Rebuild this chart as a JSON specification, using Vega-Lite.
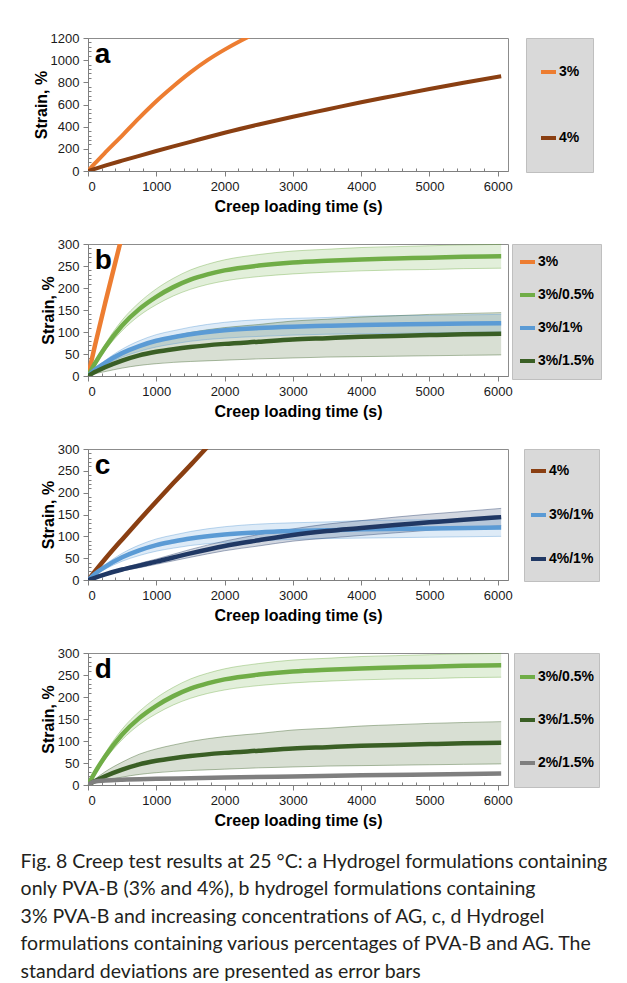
{
  "$schema": "https://vega.github.io/schema/vega-lite/v6.json",
  "background": "white",
  "padding": {"left": 20, "top": 31, "right": 5, "bottom": 5},
  "datasets": {
    "creep": [
      {"s": "3%", "t": 0, "y": 0}, {"s": "3%", "t": 100, "y": 68}, {"s": "3%", "t": 250, "y": 165}, {"s": "3%", "t": 500, "y": 320}, {"s": "3%", "t": 750, "y": 480}, {"s": "3%", "t": 1000, "y": 630}, {"s": "3%", "t": 1250, "y": 765}, {"s": "3%", "t": 1500, "y": 890}, {"s": "3%", "t": 1750, "y": 1000}, {"s": "3%", "t": 2000, "y": 1095}, {"s": "3%", "t": 2250, "y": 1180}, {"s": "3%", "t": 2500, "y": 1255},
      {"s": "4%", "t": 0, "y": 0}, {"s": "4%", "t": 250, "y": 48}, {"s": "4%", "t": 500, "y": 93}, {"s": "4%", "t": 750, "y": 137}, {"s": "4%", "t": 1000, "y": 180}, {"s": "4%", "t": 1250, "y": 222}, {"s": "4%", "t": 1500, "y": 263}, {"s": "4%", "t": 1750, "y": 305}, {"s": "4%", "t": 2000, "y": 345}, {"s": "4%", "t": 2500, "y": 420}, {"s": "4%", "t": 3000, "y": 490}, {"s": "4%", "t": 3500, "y": 555}, {"s": "4%", "t": 4000, "y": 620}, {"s": "4%", "t": 4500, "y": 680}, {"s": "4%", "t": 5000, "y": 740}, {"s": "4%", "t": 5500, "y": 797}, {"s": "4%", "t": 6050, "y": 855},
      {"s": "3%/0.5%", "t": 0, "y": 0, "lo": 0, "hi": 0}, {"s": "3%/0.5%", "t": 100, "y": 28, "lo": 25, "hi": 31}, {"s": "3%/0.5%", "t": 250, "y": 65, "lo": 58, "hi": 72}, {"s": "3%/0.5%", "t": 500, "y": 115, "lo": 103, "hi": 127}, {"s": "3%/0.5%", "t": 750, "y": 152, "lo": 137, "hi": 167}, {"s": "3%/0.5%", "t": 1000, "y": 180, "lo": 162, "hi": 198}, {"s": "3%/0.5%", "t": 1250, "y": 202, "lo": 182, "hi": 222}, {"s": "3%/0.5%", "t": 1500, "y": 219, "lo": 197, "hi": 241}, {"s": "3%/0.5%", "t": 1750, "y": 231, "lo": 208, "hi": 254}, {"s": "3%/0.5%", "t": 2000, "y": 240, "lo": 216, "hi": 264}, {"s": "3%/0.5%", "t": 2500, "y": 251, "lo": 226, "hi": 276}, {"s": "3%/0.5%", "t": 3000, "y": 258, "lo": 232, "hi": 284}, {"s": "3%/0.5%", "t": 3500, "y": 262, "lo": 236, "hi": 288}, {"s": "3%/0.5%", "t": 4000, "y": 265, "lo": 239, "hi": 292}, {"s": "3%/0.5%", "t": 4500, "y": 267, "lo": 241, "hi": 294}, {"s": "3%/0.5%", "t": 5000, "y": 269, "lo": 242, "hi": 296}, {"s": "3%/0.5%", "t": 5500, "y": 271, "lo": 244, "hi": 298}, {"s": "3%/0.5%", "t": 6050, "y": 272, "lo": 245, "hi": 299},
      {"s": "3%/1%", "t": 0, "y": 0, "lo": 0, "hi": 0}, {"s": "3%/1%", "t": 100, "y": 14, "lo": 12, "hi": 16}, {"s": "3%/1%", "t": 250, "y": 30, "lo": 25, "hi": 35}, {"s": "3%/1%", "t": 500, "y": 52, "lo": 43, "hi": 61}, {"s": "3%/1%", "t": 750, "y": 68, "lo": 56, "hi": 80}, {"s": "3%/1%", "t": 1000, "y": 80, "lo": 66, "hi": 94}, {"s": "3%/1%", "t": 1250, "y": 88, "lo": 73, "hi": 103}, {"s": "3%/1%", "t": 1500, "y": 95, "lo": 79, "hi": 111}, {"s": "3%/1%", "t": 2000, "y": 104, "lo": 86, "hi": 122}, {"s": "3%/1%", "t": 2500, "y": 109, "lo": 90, "hi": 128}, {"s": "3%/1%", "t": 3000, "y": 112, "lo": 93, "hi": 131}, {"s": "3%/1%", "t": 3500, "y": 114, "lo": 95, "hi": 133}, {"s": "3%/1%", "t": 4000, "y": 116, "lo": 96, "hi": 136}, {"s": "3%/1%", "t": 5000, "y": 118, "lo": 98, "hi": 138}, {"s": "3%/1%", "t": 6050, "y": 120, "lo": 100, "hi": 140},
      {"s": "3%/1.5%", "t": 0, "y": 0, "lo": 0, "hi": 0}, {"s": "3%/1.5%", "t": 100, "y": 9, "lo": 5, "hi": 13}, {"s": "3%/1.5%", "t": 250, "y": 20, "lo": 10, "hi": 30}, {"s": "3%/1.5%", "t": 500, "y": 35, "lo": 18, "hi": 52}, {"s": "3%/1.5%", "t": 750, "y": 47, "lo": 24, "hi": 70}, {"s": "3%/1.5%", "t": 1000, "y": 55, "lo": 28, "hi": 82}, {"s": "3%/1.5%", "t": 1250, "y": 61, "lo": 31, "hi": 91}, {"s": "3%/1.5%", "t": 1500, "y": 66, "lo": 33, "hi": 99}, {"s": "3%/1.5%", "t": 2000, "y": 73, "lo": 36, "hi": 110}, {"s": "3%/1.5%", "t": 2500, "y": 78, "lo": 39, "hi": 117}, {"s": "3%/1.5%", "t": 3000, "y": 83, "lo": 41, "hi": 125}, {"s": "3%/1.5%", "t": 3500, "y": 86, "lo": 43, "hi": 129}, {"s": "3%/1.5%", "t": 4000, "y": 89, "lo": 44, "hi": 134}, {"s": "3%/1.5%", "t": 4500, "y": 91, "lo": 45, "hi": 137}, {"s": "3%/1.5%", "t": 5000, "y": 93, "lo": 46, "hi": 140}, {"s": "3%/1.5%", "t": 5500, "y": 95, "lo": 47, "hi": 142}, {"s": "3%/1.5%", "t": 6050, "y": 96, "lo": 48, "hi": 144},
      {"s": "4%/1%", "t": 0, "y": 0, "lo": 0, "hi": 0}, {"s": "4%/1%", "t": 100, "y": 5, "lo": 4, "hi": 6}, {"s": "4%/1%", "t": 250, "y": 13, "lo": 11, "hi": 15}, {"s": "4%/1%", "t": 500, "y": 24, "lo": 21, "hi": 27}, {"s": "4%/1%", "t": 750, "y": 33, "lo": 28, "hi": 38}, {"s": "4%/1%", "t": 1000, "y": 42, "lo": 36, "hi": 48}, {"s": "4%/1%", "t": 1500, "y": 61, "lo": 52, "hi": 70}, {"s": "4%/1%", "t": 2000, "y": 78, "lo": 67, "hi": 89}, {"s": "4%/1%", "t": 2500, "y": 91, "lo": 78, "hi": 104}, {"s": "4%/1%", "t": 3000, "y": 103, "lo": 89, "hi": 117}, {"s": "4%/1%", "t": 3500, "y": 112, "lo": 96, "hi": 128}, {"s": "4%/1%", "t": 4000, "y": 119, "lo": 102, "hi": 136}, {"s": "4%/1%", "t": 4500, "y": 126, "lo": 108, "hi": 144}, {"s": "4%/1%", "t": 5000, "y": 132, "lo": 114, "hi": 151}, {"s": "4%/1%", "t": 5500, "y": 138, "lo": 119, "hi": 157}, {"s": "4%/1%", "t": 6050, "y": 144, "lo": 124, "hi": 164},
      {"s": "2%/1.5%", "t": 0, "y": 0}, {"s": "2%/1.5%", "t": 50, "y": 5}, {"s": "2%/1.5%", "t": 100, "y": 8}, {"s": "2%/1.5%", "t": 250, "y": 10}, {"s": "2%/1.5%", "t": 500, "y": 12}, {"s": "2%/1.5%", "t": 1000, "y": 14}, {"s": "2%/1.5%", "t": 1500, "y": 15.5}, {"s": "2%/1.5%", "t": 2000, "y": 17}, {"s": "2%/1.5%", "t": 3000, "y": 19.5}, {"s": "2%/1.5%", "t": 4000, "y": 22}, {"s": "2%/1.5%", "t": 5000, "y": 24}, {"s": "2%/1.5%", "t": 6050, "y": 26}
    ]
  },
  "title": {
    "text": [
      "Fig. 8  Creep test results at 25 °C: a Hydrogel formulations containing",
      "only PVA-B (3% and 4%), b hydrogel formulations containing",
      "3% PVA-B and increasing concentrations of AG, c, d Hydrogel",
      "formulations containing various percentages of PVA-B and AG. The",
      "standard deviations are presented as error bars"
    ],
    "orient": "bottom", "anchor": "start", "frame": "bounds",
    "font": "Lato", "fontSize": 19.5, "fontWeight": "normal", "color": "#231f20",
    "lineHeight": 27.5, "offset": 24, "dx": -12, "baseline": "top"
  },
  "spacing": 22,
  "resolve": {"scale": {"color": "independent", "x": "independent", "y": "independent"}, "legend": {"color": "independent"}},
  "vconcat": [
    {
      "width": 420, "height": 133,
      "resolve": {"scale": {"color": "independent"}},
      "layer": [
        {
          "data": {"name": "creep"},
          "transform": [{"filter": {"field": "s", "oneOf": ["3%", "4%"]}}],
          "mark": {"type": "line", "strokeWidth": 4, "clip": true, "interpolate": "monotone"},
          "encoding": {
            "x": {"field": "t", "type": "quantitative", "scale": {"domain": [0, 6150], "nice": false},
              "axis": {"title": "Creep loading time (s)", "format": "d", "values": [0,200,400,600,800,1000,1200,1400,1600,1800,2000,2200,2400,2600,2800,3000,3200,3400,3600,3800,4000,4200,4400,4600,4800,5000,5200,5400,5600,5800,6000], "labelExpr": "datum.value % 1000 === 0 ? datum.label : ''", "tickSize": {"condition": {"test": "datum.value % 1000 === 0", "value": 5}, "value": -3}}},
            "y": {"field": "y", "type": "quantitative", "scale": {"domain": [0, 1200], "nice": false},
              "axis": {"title": "Strain, %", "format": "d", "values": [0,40,80,120,160,200,240,280,320,360,400,440,480,520,560,600,640,680,720,760,800,840,880,920,960,1000,1040,1080,1120,1160,1200], "labelExpr": "datum.value % 200 === 0 ? datum.label : ''", "tickSize": {"condition": {"test": "datum.value % 200 === 0", "value": 5}, "value": -3}}},
            "color": {"field": "s", "type": "nominal", "scale": {"domain": ["3%", "4%"], "range": ["#ED7D31", "#8A3F12"]},
              "legend": {"title": null, "offset": 18, "padding": 13, "clipHeight": 42, "rowPadding": 24}}
          }
        },
        {
          "data": {"values": [{"label": "a"}]},
          "mark": {"type": "text", "font": "Liberation Sans", "fontSize": 28, "fontWeight": "bold", "color": "#000", "align": "left", "baseline": "alphabetic"},
          "encoding": {
            "x": {"datum": 100, "type": "quantitative",
              "axis": {"title": "Creep loading time (s)", "format": "d", "values": [0,200,400,600,800,1000,1200,1400,1600,1800,2000,2200,2400,2600,2800,3000,3200,3400,3600,3800,4000,4200,4400,4600,4800,5000,5200,5400,5600,5800,6000], "labelExpr": "datum.value % 1000 === 0 ? datum.label : ''", "tickSize": {"condition": {"test": "datum.value % 1000 === 0", "value": 5}, "value": -3}}},
            "y": {"datum": 975, "type": "quantitative",
              "axis": {"title": "Strain, %", "format": "d", "values": [0,40,80,120,160,200,240,280,320,360,400,440,480,520,560,600,640,680,720,760,800,840,880,920,960,1000,1040,1080,1120,1160,1200], "labelExpr": "datum.value % 200 === 0 ? datum.label : ''", "tickSize": {"condition": {"test": "datum.value % 200 === 0", "value": 5}, "value": -3}}},
            "text": {"field": "label"}
          }
        }
      ]
    },
    {
      "width": 420, "height": 132,
      "resolve": {"scale": {"color": "independent"}},
      "layer": [
        {
          "data": {"name": "creep"},
          "transform": [{"filter": {"field": "s", "oneOf": ["3%/0.5%", "3%/1%", "3%/1.5%"]}}],
          "mark": {"type": "errorband", "interpolate": "monotone", "band": {"opacity": 0.2}, "borders": {"opacity": 0.4, "strokeWidth": 1}},
          "encoding": {
            "x": {"field": "t", "type": "quantitative", "scale": {"domain": [0, 6150], "nice": false},
              "axis": {"title": "Creep loading time (s)", "format": "d", "values": [0,200,400,600,800,1000,1200,1400,1600,1800,2000,2200,2400,2600,2800,3000,3200,3400,3600,3800,4000,4200,4400,4600,4800,5000,5200,5400,5600,5800,6000], "labelExpr": "datum.value % 1000 === 0 ? datum.label : ''", "tickSize": {"condition": {"test": "datum.value % 1000 === 0", "value": 5}, "value": -3}}},
            "y": {"field": "lo", "type": "quantitative", "scale": {"domain": [0, 300], "nice": false},
              "axis": {"title": "Strain, %", "format": "d", "values": [0,10,20,30,40,50,60,70,80,90,100,110,120,130,140,150,160,170,180,190,200,210,220,230,240,250,260,270,280,290,300], "labelExpr": "datum.value % 50 === 0 ? datum.label : ''", "tickSize": {"condition": {"test": "datum.value % 50 === 0", "value": 5}, "value": -3}}},
            "y2": {"field": "hi"},
            "color": {"field": "s", "type": "nominal", "scale": {"domain": ["3%", "3%/0.5%", "3%/1%", "3%/1.5%"], "range": ["#ED7D31", "#70AD47", "#5B9BD5", "#3A5F25"]}, "legend": null}
          }
        },
        {
          "data": {"name": "creep"},
          "transform": [{"filter": {"field": "s", "oneOf": ["3%", "3%/0.5%", "3%/1%", "3%/1.5%"]}}],
          "mark": {"type": "line", "strokeWidth": 4.5, "clip": true, "interpolate": "monotone"},
          "encoding": {
            "x": {"field": "t", "type": "quantitative", "scale": {"domain": [0, 6150], "nice": false},
              "axis": {"title": "Creep loading time (s)", "format": "d", "values": [0,200,400,600,800,1000,1200,1400,1600,1800,2000,2200,2400,2600,2800,3000,3200,3400,3600,3800,4000,4200,4400,4600,4800,5000,5200,5400,5600,5800,6000], "labelExpr": "datum.value % 1000 === 0 ? datum.label : ''", "tickSize": {"condition": {"test": "datum.value % 1000 === 0", "value": 5}, "value": -3}}},
            "y": {"field": "y", "type": "quantitative", "scale": {"domain": [0, 300], "nice": false},
              "axis": {"title": "Strain, %", "format": "d", "values": [0,10,20,30,40,50,60,70,80,90,100,110,120,130,140,150,160,170,180,190,200,210,220,230,240,250,260,270,280,290,300], "labelExpr": "datum.value % 50 === 0 ? datum.label : ''", "tickSize": {"condition": {"test": "datum.value % 50 === 0", "value": 5}, "value": -3}}},
            "color": {"field": "s", "type": "nominal", "scale": {"domain": ["3%", "3%/0.5%", "3%/1%", "3%/1.5%"], "range": ["#ED7D31", "#70AD47", "#5B9BD5", "#3A5F25"]},
              "legend": {"title": null, "offset": 4, "padding": 6, "clipHeight": 24, "rowPadding": 9}}
          }
        },
        {
          "data": {"values": [{"label": "b"}]},
          "mark": {"type": "text", "font": "Liberation Sans", "fontSize": 28, "fontWeight": "bold", "color": "#000", "align": "left", "baseline": "alphabetic"},
          "encoding": {
            "x": {"datum": 100, "type": "quantitative",
              "axis": {"title": "Creep loading time (s)", "format": "d", "values": [0,200,400,600,800,1000,1200,1400,1600,1800,2000,2200,2400,2600,2800,3000,3200,3400,3600,3800,4000,4200,4400,4600,4800,5000,5200,5400,5600,5800,6000], "labelExpr": "datum.value % 1000 === 0 ? datum.label : ''", "tickSize": {"condition": {"test": "datum.value % 1000 === 0", "value": 5}, "value": -3}}},
            "y": {"datum": 243, "type": "quantitative",
              "axis": {"title": "Strain, %", "format": "d", "values": [0,10,20,30,40,50,60,70,80,90,100,110,120,130,140,150,160,170,180,190,200,210,220,230,240,250,260,270,280,290,300], "labelExpr": "datum.value % 50 === 0 ? datum.label : ''", "tickSize": {"condition": {"test": "datum.value % 50 === 0", "value": 5}, "value": -3}}},
            "text": {"field": "label"}
          }
        }
      ]
    },
    {
      "width": 420, "height": 131,
      "resolve": {"scale": {"color": "independent"}},
      "layer": [
        {
          "data": {"name": "creep"},
          "transform": [{"filter": {"field": "s", "oneOf": ["3%/1%", "4%/1%"]}}],
          "mark": {"type": "errorband", "interpolate": "monotone", "band": {"opacity": 0.2}, "borders": {"opacity": 0.4, "strokeWidth": 1}},
          "encoding": {
            "x": {"field": "t", "type": "quantitative", "scale": {"domain": [0, 6150], "nice": false},
              "axis": {"title": "Creep loading time (s)", "format": "d", "values": [0,200,400,600,800,1000,1200,1400,1600,1800,2000,2200,2400,2600,2800,3000,3200,3400,3600,3800,4000,4200,4400,4600,4800,5000,5200,5400,5600,5800,6000], "labelExpr": "datum.value % 1000 === 0 ? datum.label : ''", "tickSize": {"condition": {"test": "datum.value % 1000 === 0", "value": 5}, "value": -3}}},
            "y": {"field": "lo", "type": "quantitative", "scale": {"domain": [0, 300], "nice": false},
              "axis": {"title": "Strain, %", "format": "d", "values": [0,10,20,30,40,50,60,70,80,90,100,110,120,130,140,150,160,170,180,190,200,210,220,230,240,250,260,270,280,290,300], "labelExpr": "datum.value % 50 === 0 ? datum.label : ''", "tickSize": {"condition": {"test": "datum.value % 50 === 0", "value": 5}, "value": -3}}},
            "y2": {"field": "hi"},
            "color": {"field": "s", "type": "nominal", "scale": {"domain": ["4%", "3%/1%", "4%/1%"], "range": ["#8A3F12", "#5B9BD5", "#203864"]}, "legend": null}
          }
        },
        {
          "data": {"name": "creep"},
          "transform": [{"filter": {"field": "s", "oneOf": ["4%", "3%/1%", "4%/1%"]}}],
          "mark": {"type": "line", "strokeWidth": 4.5, "clip": true, "interpolate": "monotone"},
          "encoding": {
            "x": {"field": "t", "type": "quantitative", "scale": {"domain": [0, 6150], "nice": false},
              "axis": {"title": "Creep loading time (s)", "format": "d", "values": [0,200,400,600,800,1000,1200,1400,1600,1800,2000,2200,2400,2600,2800,3000,3200,3400,3600,3800,4000,4200,4400,4600,4800,5000,5200,5400,5600,5800,6000], "labelExpr": "datum.value % 1000 === 0 ? datum.label : ''", "tickSize": {"condition": {"test": "datum.value % 1000 === 0", "value": 5}, "value": -3}}},
            "y": {"field": "y", "type": "quantitative", "scale": {"domain": [0, 300], "nice": false},
              "axis": {"title": "Strain, %", "format": "d", "values": [0,10,20,30,40,50,60,70,80,90,100,110,120,130,140,150,160,170,180,190,200,210,220,230,240,250,260,270,280,290,300], "labelExpr": "datum.value % 50 === 0 ? datum.label : ''", "tickSize": {"condition": {"test": "datum.value % 50 === 0", "value": 5}, "value": -3}}},
            "color": {"field": "s", "type": "nominal", "scale": {"domain": ["4%", "3%/1%", "4%/1%"], "range": ["#8A3F12", "#5B9BD5", "#203864"]},
              "legend": {"title": null, "offset": 16, "padding": 5, "clipHeight": 34, "rowPadding": 10}}
          }
        },
        {
          "data": {"values": [{"label": "c"}]},
          "mark": {"type": "text", "font": "Liberation Sans", "fontSize": 28, "fontWeight": "bold", "color": "#000", "align": "left", "baseline": "alphabetic"},
          "encoding": {
            "x": {"datum": 100, "type": "quantitative",
              "axis": {"title": "Creep loading time (s)", "format": "d", "values": [0,200,400,600,800,1000,1200,1400,1600,1800,2000,2200,2400,2600,2800,3000,3200,3400,3600,3800,4000,4200,4400,4600,4800,5000,5200,5400,5600,5800,6000], "labelExpr": "datum.value % 1000 === 0 ? datum.label : ''", "tickSize": {"condition": {"test": "datum.value % 1000 === 0", "value": 5}, "value": -3}}},
            "y": {"datum": 243, "type": "quantitative",
              "axis": {"title": "Strain, %", "format": "d", "values": [0,10,20,30,40,50,60,70,80,90,100,110,120,130,140,150,160,170,180,190,200,210,220,230,240,250,260,270,280,290,300], "labelExpr": "datum.value % 50 === 0 ? datum.label : ''", "tickSize": {"condition": {"test": "datum.value % 50 === 0", "value": 5}, "value": -3}}},
            "text": {"field": "label"}
          }
        }
      ]
    },
    {
      "width": 420, "height": 132,
      "resolve": {"scale": {"color": "independent"}},
      "layer": [
        {
          "data": {"name": "creep"},
          "transform": [{"filter": {"field": "s", "oneOf": ["3%/0.5%", "3%/1.5%"]}}],
          "mark": {"type": "errorband", "interpolate": "monotone", "band": {"opacity": 0.2}, "borders": {"opacity": 0.4, "strokeWidth": 1}},
          "encoding": {
            "x": {"field": "t", "type": "quantitative", "scale": {"domain": [0, 6150], "nice": false},
              "axis": {"title": "Creep loading time (s)", "format": "d", "values": [0,200,400,600,800,1000,1200,1400,1600,1800,2000,2200,2400,2600,2800,3000,3200,3400,3600,3800,4000,4200,4400,4600,4800,5000,5200,5400,5600,5800,6000], "labelExpr": "datum.value % 1000 === 0 ? datum.label : ''", "tickSize": {"condition": {"test": "datum.value % 1000 === 0", "value": 5}, "value": -3}}},
            "y": {"field": "lo", "type": "quantitative", "scale": {"domain": [0, 300], "nice": false},
              "axis": {"title": "Strain, %", "format": "d", "values": [0,10,20,30,40,50,60,70,80,90,100,110,120,130,140,150,160,170,180,190,200,210,220,230,240,250,260,270,280,290,300], "labelExpr": "datum.value % 50 === 0 ? datum.label : ''", "tickSize": {"condition": {"test": "datum.value % 50 === 0", "value": 5}, "value": -3}}},
            "y2": {"field": "hi"},
            "color": {"field": "s", "type": "nominal", "scale": {"domain": ["3%/0.5%", "3%/1.5%", "2%/1.5%"], "range": ["#70AD47", "#3A5F25", "#7F7F7F"]}, "legend": null}
          }
        },
        {
          "data": {"name": "creep"},
          "transform": [{"filter": {"field": "s", "oneOf": ["3%/0.5%", "3%/1.5%", "2%/1.5%"]}}],
          "mark": {"type": "line", "strokeWidth": 4.5, "clip": true, "interpolate": "monotone"},
          "encoding": {
            "x": {"field": "t", "type": "quantitative", "scale": {"domain": [0, 6150], "nice": false},
              "axis": {"title": "Creep loading time (s)", "format": "d", "values": [0,200,400,600,800,1000,1200,1400,1600,1800,2000,2200,2400,2600,2800,3000,3200,3400,3600,3800,4000,4200,4400,4600,4800,5000,5200,5400,5600,5800,6000], "labelExpr": "datum.value % 1000 === 0 ? datum.label : ''", "tickSize": {"condition": {"test": "datum.value % 1000 === 0", "value": 5}, "value": -3}}},
            "y": {"field": "y", "type": "quantitative", "scale": {"domain": [0, 300], "nice": false},
              "axis": {"title": "Strain, %", "format": "d", "values": [0,10,20,30,40,50,60,70,80,90,100,110,120,130,140,150,160,170,180,190,200,210,220,230,240,250,260,270,280,290,300], "labelExpr": "datum.value % 50 === 0 ? datum.label : ''", "tickSize": {"condition": {"test": "datum.value % 50 === 0", "value": 5}, "value": -3}}},
            "color": {"field": "s", "type": "nominal", "scale": {"domain": ["3%/0.5%", "3%/1.5%", "2%/1.5%"], "range": ["#70AD47", "#3A5F25", "#7F7F7F"]},
              "legend": {"title": null, "offset": 6, "padding": 4, "clipHeight": 40, "rowPadding": 3}}
          }
        },
        {
          "data": {"values": [{"label": "d"}]},
          "mark": {"type": "text", "font": "Liberation Sans", "fontSize": 28, "fontWeight": "bold", "color": "#000", "align": "left", "baseline": "alphabetic"},
          "encoding": {
            "x": {"datum": 100, "type": "quantitative",
              "axis": {"title": "Creep loading time (s)", "format": "d", "values": [0,200,400,600,800,1000,1200,1400,1600,1800,2000,2200,2400,2600,2800,3000,3200,3400,3600,3800,4000,4200,4400,4600,4800,5000,5200,5400,5600,5800,6000], "labelExpr": "datum.value % 1000 === 0 ? datum.label : ''", "tickSize": {"condition": {"test": "datum.value % 1000 === 0", "value": 5}, "value": -3}}},
            "y": {"datum": 243, "type": "quantitative",
              "axis": {"title": "Strain, %", "format": "d", "values": [0,10,20,30,40,50,60,70,80,90,100,110,120,130,140,150,160,170,180,190,200,210,220,230,240,250,260,270,280,290,300], "labelExpr": "datum.value % 50 === 0 ? datum.label : ''", "tickSize": {"condition": {"test": "datum.value % 50 === 0", "value": 5}, "value": -3}}},
            "text": {"field": "label"}
          }
        }
      ]
    }
  ],
  "config": {
    "font": "Liberation Sans",
    "view": {"stroke": "#8c8c8c", "strokeWidth": 1},
    "axis": {"labelFont": "Liberation Sans", "labelFontSize": 13, "labelColor": "#1a1a1a", "titleFont": "Liberation Sans", "titleFontSize": 16, "titleFontWeight": "bold", "titleColor": "#000", "domainColor": "#7f7f7f", "tickColor": "#7f7f7f", "grid": false, "labelPadding": 4},
    "axisY": {"titlePadding": 1},
    "axisX": {"titlePadding": 5},
    "legend": {"fillColor": "#d9d9d9", "strokeColor": "#bfbfbf", "labelFont": "Liberation Sans", "labelFontSize": 14, "labelFontWeight": "bold", "labelColor": "#000", "symbolType": "stroke", "symbolStrokeWidth": 4, "symbolSize": 225, "labelOffset": 1, "labelLimit": 200}
  }
}
